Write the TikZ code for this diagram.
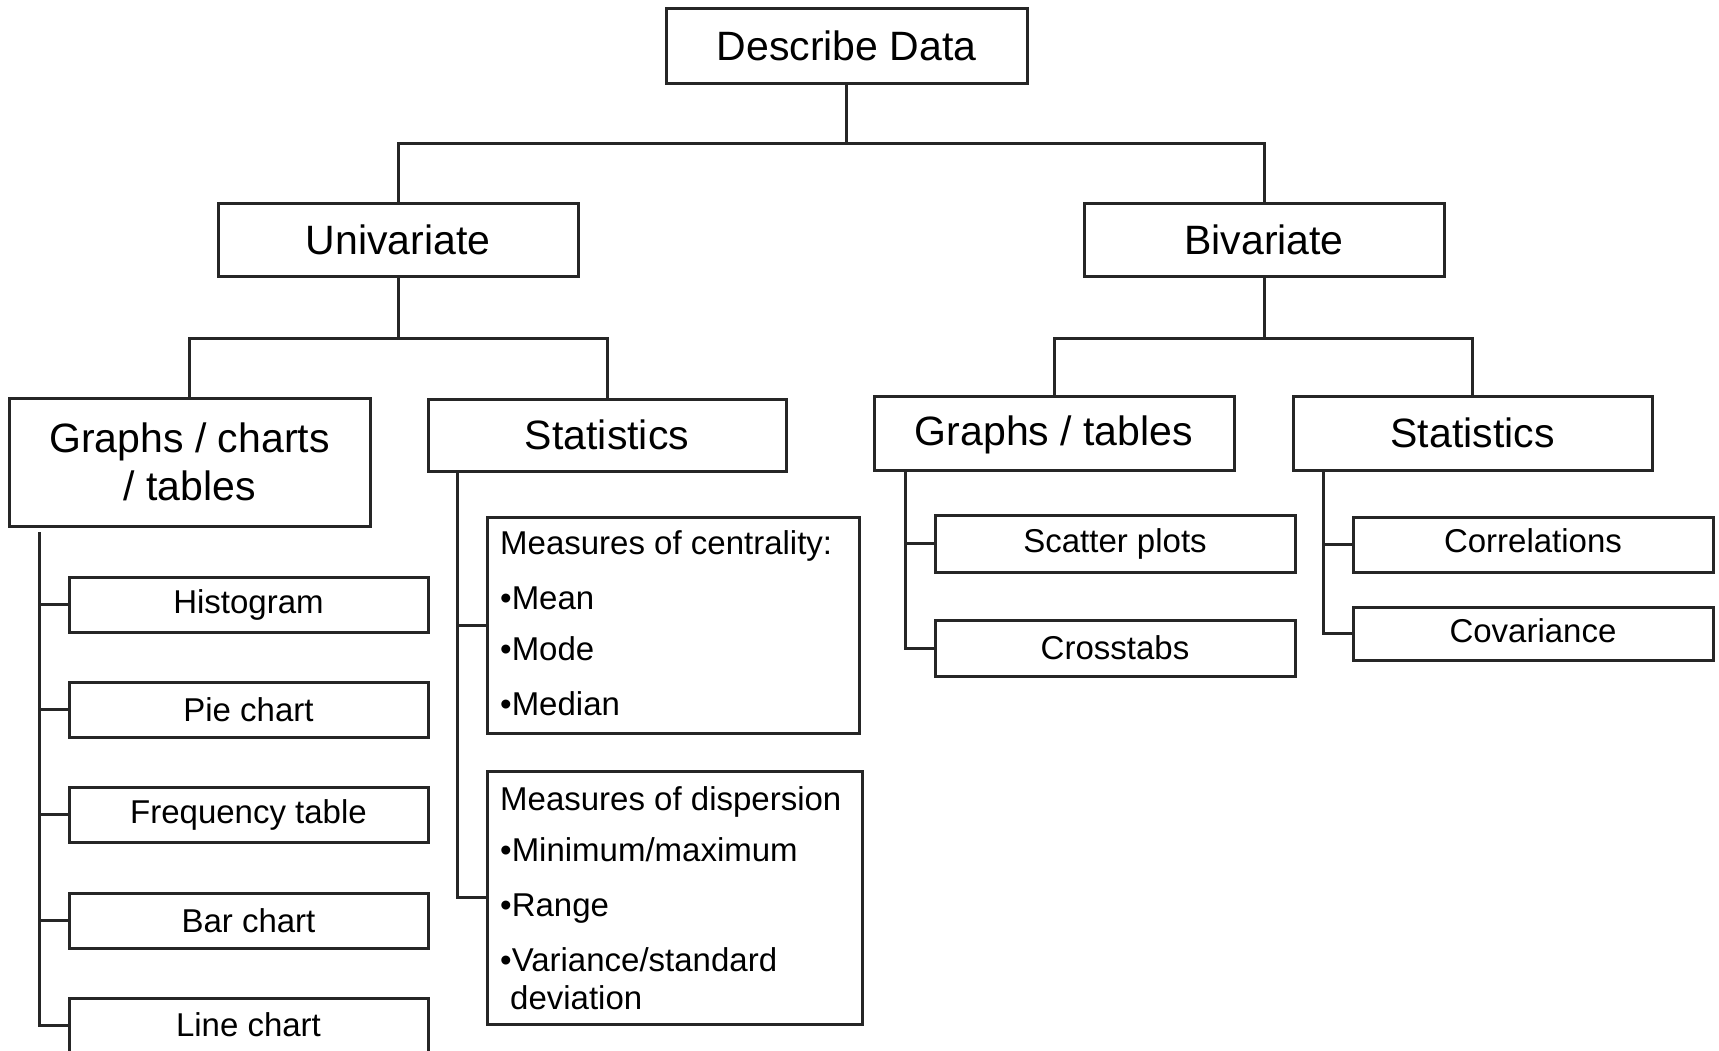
\documentclass[tikz,border=0pt]{standalone}
\usepackage{fontspec}
\setmainfont{Liberation Sans}
\begin{document}
\begin{tikzpicture}[x=1pt,y=-1pt,
  ln/.style={draw=black!85,line width=3pt},
  box/.style={draw=black!85,line width=3pt,fill=white,inner sep=0pt,align=center},
  big/.style={box,font=\fontsize{41}{48}\selectfont},
  leaf/.style={box,font=\fontsize{33}{40}\selectfont,minimum width=359pt},
  txt/.style={anchor=base west,inner sep=0pt,font=\fontsize{33}{40}\selectfont},
  lbl/.style={inner sep=0pt,font=\fontsize{33}{40}\selectfont}]
\useasboundingbox[fill=white] (0,0) rectangle (1719,1050);

% level 1 and 2
\node[big,minimum width=361pt,minimum height=75pt] (desc) at (846.5,45.5) {Describe Data};
\node[big,minimum width=360pt,minimum height=73pt] (uni) at (398,240) {Univariate};
\node[big,minimum width=360pt,minimum height=73pt] (biv) at (1264,240) {Bivariate};

% level 3
\node[big,minimum width=361pt,minimum height=128pt] (gct) at (189.5,462) {Graphs / charts\\/ tables};
\node[big,minimum width=358pt,minimum height=72pt] (ustat) at (607,435) {Statistics};
\node[box,minimum width=360pt,minimum height=74pt] (gt) at (1054,433) {};
\node[inner sep=0pt,font=\fontsize{41}{48}\selectfont] (gtl) at (1054,435) {Graphs / tables};
\node[big,minimum width=359pt,minimum height=74pt] (bstat) at (1472.5,433) {Statistics};

% univariate leaves
\node[leaf,minimum height=55pt] (hist) at (248.5,604.5) {Histogram};
\node[leaf,minimum height=55pt] (pie) at (248.5,709.5) {Pie chart};
\node[leaf,minimum height=55pt] (freq) at (248.5,814.5) {Frequency table};
\node[leaf,minimum height=55pt] (bar) at (248.5,920.5) {Bar chart};
\node[leaf,minimum height=54pt] (line) at (248.5,1025) {Line chart};

% univariate statistics boxes
\node[box,minimum width=372pt,minimum height=216pt] (cent) at (673,625) {};
\node[txt] (c0) at (500,554) {Measures of centrality:};
\node[txt] (c1) at (500,609) {•Mean};
\node[txt] (c2) at (500,660) {•Mode};
\node[txt] (c3) at (500,715) {•Median};

\node[box,minimum width=375pt,minimum height=253pt] (disp) at (674.5,897.5) {};
\node[txt] (d0) at (500,810) {Measures of dispersion};
\node[txt] (d1) at (500,861) {•Minimum/maximum};
\node[txt] (d2) at (500,916) {•Range};
\node[txt] (d3) at (500,971) {•Variance/standard};
\node[txt] (d4) at (510,1009) {deviation};

% bivariate leaves
\node[leaf,minimum width=360pt,minimum height=57pt] (scat) at (1115,543.5) {Scatter plots};
\node[leaf,minimum width=360pt,minimum height=56pt] (cross) at (1115,648) {Crosstabs};
\node[box,minimum width=360pt,minimum height=55pt] (corr) at (1533,544.5) {};
\node[lbl] (corrl) at (1533,541) {Correlations};
\node[box,minimum width=360pt,minimum height=53pt] (cov) at (1533,633.5) {};
\node[lbl] (covl) at (1533,631) {Covariance};

% junctions and spines
\coordinate (j1) at (846.5,143);
\coordinate (j2) at (398,338);
\coordinate (j3) at (1264,338);
\coordinate (s1) at (39,532);
\coordinate (s2) at (457,471);
\coordinate (s3) at (905,470);
\coordinate (s4) at (1323,470);

\draw[ln] (desc.south) -- (j1);
\draw[ln] (uni.north) |- (j1) -| (biv.north);
\draw[ln] (uni.south) -- (j2);
\draw[ln] (gct.north) |- (j2) -| (ustat.north);
\draw[ln] (biv.south) -- (j3);
\draw[ln] (gt.north) |- (j3) -| (bstat.north);

\foreach \n in {hist,pie,freq,bar}{\draw[ln] (s1) |- (\n.west);}
\draw[ln] (s1) |- (line.west);
\draw[ln] (s2) |- (cent.west);
\draw[ln] (s2) |- (disp.west);
\draw[ln] (s3) |- (scat.west);
\draw[ln] (s3) |- (cross.west);
\draw[ln] (s4) |- (corr.west);
\draw[ln] (s4) |- (cov.west);
\end{tikzpicture}
\end{document}
